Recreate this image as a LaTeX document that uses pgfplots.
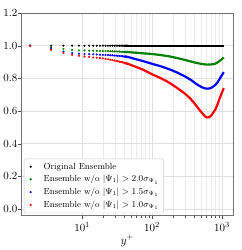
\documentclass[border=0pt]{standalone}
\usepackage{pgfplots}
\pgfplotsset{compat=1.18}
\definecolor{mplgreen}{rgb}{0,0.5,0}
\begin{document}
\begin{tikzpicture}
\begin{axis}[
  name=ax,
  scale only axis,
  width=212pt, height=203pt,
  xmode=log,
  xmin=1.35, xmax=1435,
  ymin=-0.04, ymax=1.2,
  ytick={0,0.2,0.4,0.6,0.8,1.0,1.2},
  yticklabel style={/pgf/number format/fixed,/pgf/number format/fixed zerofill,/pgf/number format/precision=1},
  xtick={10,100,1000},
  grid=both,
  major grid style={black!12, line width=0.5pt},
  minor grid style={black!8, line width=0.4pt},
  minor y tick num=0,
  tick align=outside,
  tick pos=left,
  axis line style={black!55},
  tick style={black!70},
  major tick length=3pt, minor tick length=2pt,
  xlabel={$y^+$},
  xlabel style={font=\fontsize{12}{14}\selectfont, yshift=3pt},
  tick label style={font=\fontsize{11}{13}\selectfont},
  yticklabel style={xshift=2.5pt},
  legend style={font=\fontsize{8.8}{10.5}\selectfont, draw=black!20, fill=white, rounded corners=1.5pt, at={(0.012,0.012)}, anchor=south west, row sep=0.6pt, inner xsep=3pt, inner ysep=2pt},
  legend cell align=left,
  legend image code/.code={\path (0cm,0cm) (0.5cm,0cm); \draw[#1, mark size=0.9pt] plot coordinates {(0.12cm,0cm)};},
]
% sparse markers
\addplot[only marks, mark=*, mark size=0.85pt, color=black] coordinates {
(1.8,1.0)(3.6,1.0)(5.4,1.0)(7.2,1.0)(9.0,1.0)(10.8,1.0)(12.6,1.0)(14.4,1.0)(16.2,1.0)(18.0,1.0)(19.8,1.0)(21.6,1.0)(23.4,1.0)(25.2,1.0)(27.0,1.0)(28.8,1.0)(30.6,1.0)(32.4,1.0)(34.2,1.0)(36.0,1.0)(37.8,1.0)(39.6,1.0)(41.4,1.0)(43.2,1.0)(45.0,1.0)
};
\addlegendentry{Original Ensemble}
\addplot[only marks, mark=*, mark size=0.85pt, color=mplgreen] coordinates {
(1.8,1.000)(3.6,0.990)(5.4,0.980)(7.2,0.974)(9.0,0.971)(10.8,0.970)(12.6,0.969)(14.4,0.969)(16.2,0.968)(18.0,0.968)(19.8,0.967)(21.6,0.967)(23.4,0.967)(25.2,0.966)(27.0,0.966)(28.8,0.965)(30.6,0.965)(32.4,0.964)(34.2,0.964)(36.0,0.963)(37.8,0.963)(39.6,0.962)(41.4,0.962)(43.2,0.961)(45.0,0.961)
};
\addlegendentry{Ensemble w/o $|\Psi_1| > 2.0\sigma_{\Psi_1}$}
\addplot[only marks, mark=*, mark size=0.85pt, color=blue] coordinates {
(1.8,1.000)(3.6,0.985)(5.4,0.964)(7.2,0.955)(9.0,0.951)(10.8,0.949)(12.6,0.948)(14.4,0.947)(16.2,0.946)(18.0,0.945)(19.8,0.944)(21.6,0.943)(23.4,0.943)(25.2,0.942)(27.0,0.941)(28.8,0.940)(30.6,0.939)(32.4,0.938)(34.2,0.937)(36.0,0.936)(37.8,0.935)(39.6,0.934)(41.4,0.933)(43.2,0.932)(45.0,0.931)
};
\addlegendentry{Ensemble w/o $|\Psi_1| > 1.5\sigma_{\Psi_1}$}
\addplot[only marks, mark=*, mark size=0.85pt, color=red] coordinates {
(1.8,1.000)(3.6,0.975)(5.4,0.955)(7.2,0.944)(9.0,0.938)(10.8,0.934)(12.6,0.931)(14.4,0.928)(16.2,0.926)(18.0,0.924)(19.8,0.922)(21.6,0.919)(23.4,0.917)(25.2,0.914)(27.0,0.912)(28.8,0.909)(30.6,0.907)(32.4,0.905)(34.2,0.902)(36.0,0.900)(37.8,0.898)(39.6,0.896)(41.4,0.893)(43.2,0.891)(45.0,0.889)
};
\addlegendentry{Ensemble w/o $|\Psi_1| > 1.0\sigma_{\Psi_1}$}
% dense region drawn as thick lines
\addplot[forget plot, black, line width=2.2pt] coordinates {(40,1.0)(1060,1.0)};
\addplot[forget plot, mplgreen, line width=2.2pt, smooth] coordinates {
(40,0.962)(45,0.961)(58,0.957)(75,0.953)(100,0.949)(135,0.942)(173,0.935)(230,0.924)(300,0.912)(416,0.896)(520,0.888)(610,0.884)(700,0.885)(803,0.890)(900,0.903)(980,0.915)(1060,0.928)
};
\addplot[forget plot, blue, line width=2.2pt, smooth] coordinates {
(40,0.934)(45,0.931)(58,0.918)(75,0.905)(100,0.889)(135,0.873)(173,0.857)(230,0.835)(300,0.810)(360,0.790)(416,0.770)(470,0.755)(520,0.745)(570,0.739)(610,0.737)(660,0.738)(710,0.743)(760,0.752)(803,0.760)(860,0.775)(920,0.795)(980,0.815)(1060,0.838)
};
\addplot[forget plot, red, line width=2.2pt, smooth] coordinates {
(40,0.895)(45,0.889)(58,0.871)(75,0.852)(100,0.825)(135,0.800)(173,0.775)(230,0.740)(300,0.704)(360,0.672)(416,0.640)(470,0.610)(520,0.588)(570,0.568)(610,0.561)(660,0.562)(710,0.575)(760,0.595)(803,0.610)(860,0.640)(920,0.675)(980,0.705)(1060,0.740)
};
\end{axis}
\path ([shift={(-19pt,-34pt)}]ax.south west) ([shift={(9pt,13pt)}]ax.north east);
\end{tikzpicture}
\end{document}
